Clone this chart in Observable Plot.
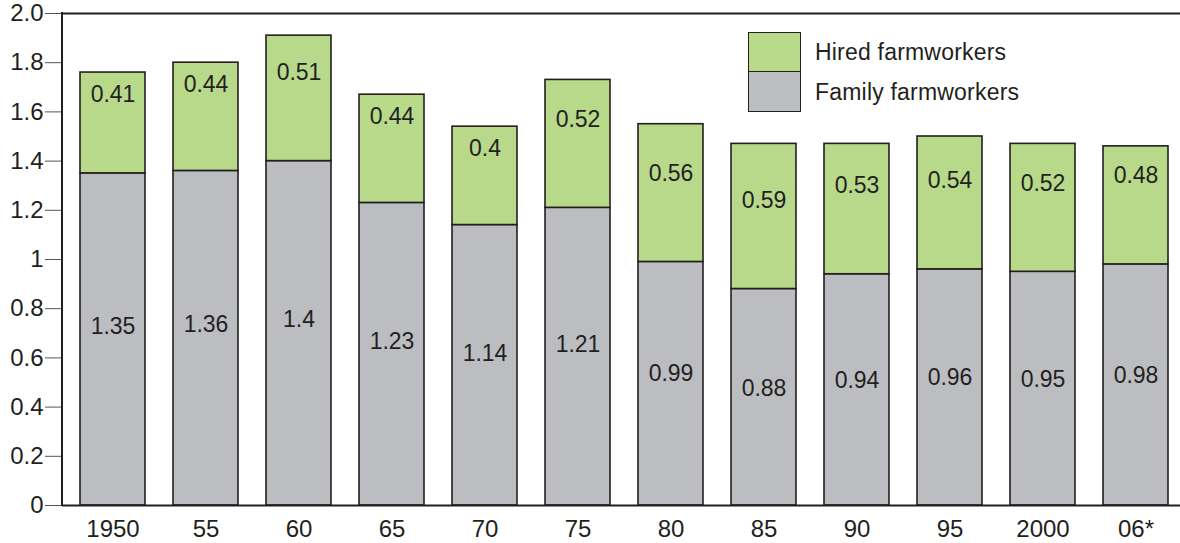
<!DOCTYPE html>
<html>
<head>
<meta charset="utf-8">
<script src="https://cdn.jsdelivr.net/npm/d3@7"></script>
<script src="https://cdn.jsdelivr.net/npm/@observablehq/plot@0.6"></script>
<style>
  html, body { margin: 0; padding: 0; background: #fff; }
  #wrap { position: relative; width: 1180px; height: 543px; font-family: "Liberation Sans", Arial, Helvetica, sans-serif; }
  #legend { position: absolute; left: 748px; top: 32px; }
  .row { display: flex; align-items: center; height: 40px; }
  .sw { width: 51px; height: 38px; border: 1.5px solid #231f20; box-sizing: content-box; }
  .row + .row .sw { border-top: none; height: 38.5px; }
  .lab { margin-left: 14px; font-size: 23px; color: #231f20; letter-spacing: 0.2px; }
</style>
</head>
<body>
<div id="wrap"></div>
<script>
const years = ["1950", "55", "60", "65", "70", "75", "80", "85", "90", "95", "2000", "06*"];
const family = [1.35, 1.36, 1.4, 1.23, 1.14, 1.21, 0.99, 0.88, 0.94, 0.96, 0.95, 0.98];
const hired = [0.41, 0.44, 0.51, 0.44, 0.4, 0.52, 0.56, 0.59, 0.53, 0.54, 0.52, 0.48];
const seriesNames = ["Family farmworkers", "Hired farmworkers"];
const seriesColors = ["#bcbdc1", "#b8d98a"];
const yTicks = [0, 0.2, 0.4, 0.6, 0.8, 1, 1.2, 1.4, 1.6, 1.8, 2.0];
const yTickLabels = ["0", "0.2", "0.4", "0.6", "0.8", "1", "1.2", "1.4", "1.6", "1.8", "2.0"];

const rows = [];
years.forEach((yr, i) => {
  rows.push({year: yr, series: seriesNames[0], value: family[i], label: String(family[i]), ly: family[i] * 0.54});
  const total = family[i] + hired[i];
  rows.push({year: yr, series: seriesNames[1], value: hired[i], label: String(hired[i]), ly: Math.min(family[i] + 0.36, total - 0.09)});
});

const ink = "#231f20";
const chart = Plot.plot({
  width: 1180,
  height: 543,
  marginLeft: 62,
  marginRight: 0,
  marginTop: 13,
  marginBottom: 38,
  style: {fontFamily: "'Liberation Sans', Arial, Helvetica, sans-serif", fontSize: "24px", color: ink, background: "#fff"},
  x: {domain: years, range: [63, 1185], paddingInner: 0.3, paddingOuter: 0.15, label: null},
  y: {domain: [0, 2], label: null},
  color: {domain: seriesNames, range: seriesColors},
  marks: [
    Plot.barY(rows, {x: "year", y: "value", fill: "series", order: seriesNames, stroke: ink, strokeWidth: 1.6}),
    Plot.text(rows, {x: "year", y: "ly", text: "label", fill: ink, fontSize: 23, textAnchor: "middle"}),
    Plot.ruleY([0], {stroke: ink, strokeWidth: 2}),
    Plot.ruleY([2], {stroke: ink, strokeWidth: 2}),
    Plot.axisY({ticks: yTicks, tickFormat: (d) => yTickLabels[yTicks.indexOf(d)], tickSize: 17, tickPadding: 2, stroke: "#555", fill: ink, fontSize: 24, label: null}),
    Plot.axisX({tickSize: 0, tickPadding: 14, fill: ink, fontSize: 24, label: null})
  ]
});

const wrap = document.getElementById("wrap");
wrap.appendChild(chart);
const svg = d3.select(chart);
const yS = chart.scale("y");
svg.append("line")
  .attr("x1", 62).attr("x2", 62)
  .attr("y1", yS.apply(0) + 1).attr("y2", yS.apply(2) - 1)
  .attr("stroke", ink).attr("stroke-width", 2);

const legend = document.createElement("div");
legend.id = "legend";
[1, 0].forEach(k => {
  const row = document.createElement("div");
  row.className = "row";
  const sw = document.createElement("div");
  sw.className = "sw";
  sw.style.background = seriesColors[k];
  const lab = document.createElement("span");
  lab.className = "lab";
  lab.textContent = seriesNames[k];
  row.appendChild(sw);
  row.appendChild(lab);
  legend.appendChild(row);
});
wrap.appendChild(legend);
</script>
</body>
</html>
